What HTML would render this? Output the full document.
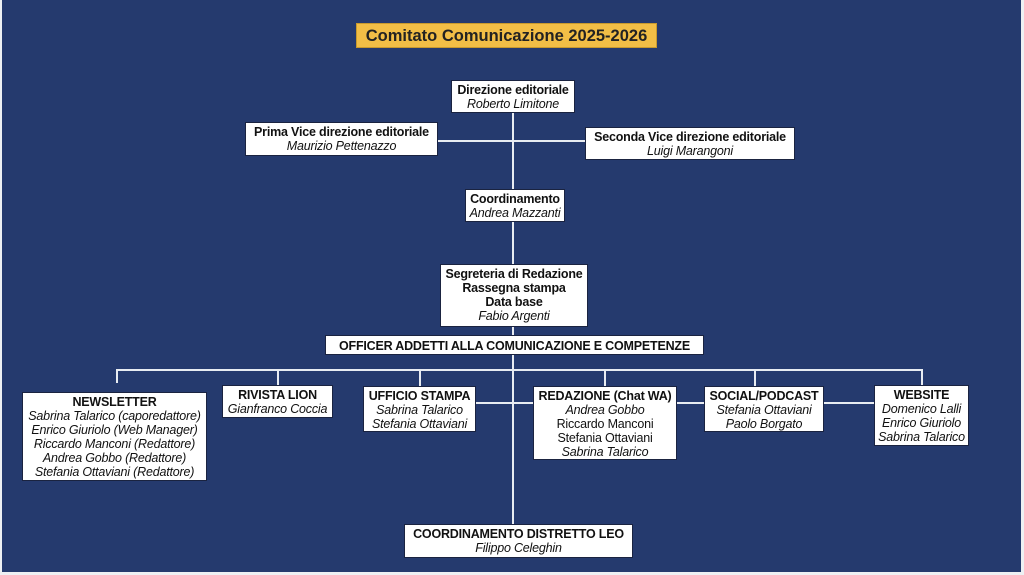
<!DOCTYPE html>
<html><head><meta charset="utf-8"><style>
body{margin:0;width:1024px;height:575px;background:#eef0f3;position:relative;overflow:hidden;font-family:"Liberation Sans",sans-serif;}
#bg{position:absolute;left:2px;top:0;width:1019px;height:572px;background:#253a6e;}
.l{position:absolute;background:#e8ecf2;}
.b{position:absolute;background:#fff;border:1px solid #1a2340;box-sizing:border-box;text-align:center;font-size:12.5px;line-height:14px;color:#111;padding-top:2px;white-space:nowrap;letter-spacing:-0.2px;}
.b b{font-size:12.5px;}
.b i{display:block;}
</style></head><body>
<div id="bg"></div>
<div style="position:absolute;left:356px;top:23px;width:301px;height:25px;background:#f2be46;border:1px solid #c99a2e;box-sizing:border-box;text-align:center;font-size:16.5px;line-height:25px;font-weight:bold;color:#222;">Comitato Comunicazione 2025-2026</div>
<div class="l" style="left:512px;top:112px;width:2px;height:413px;"></div>
<div class="l" style="left:438px;top:140px;width:148px;height:2px;"></div>
<div class="l" style="left:116px;top:369px;width:807px;height:2px;"></div>
<div class="l" style="left:116px;top:369px;width:2px;height:14px;"></div>
<div class="l" style="left:277px;top:369px;width:2px;height:17px;"></div>
<div class="l" style="left:419px;top:369px;width:2px;height:17px;"></div>
<div class="l" style="left:604px;top:369px;width:2px;height:17px;"></div>
<div class="l" style="left:754px;top:369px;width:2px;height:17px;"></div>
<div class="l" style="left:921px;top:369px;width:2px;height:17px;"></div>
<div class="l" style="left:476px;top:402px;width:399px;height:2px;"></div>
<div class="b" style="left:451px;top:80px;width:124px;height:33px;"><b>Direzione editoriale</b><i>Roberto Limitone</i></div>
<div class="b" style="left:245px;top:122px;width:193px;height:34px;"><b>Prima Vice direzione editoriale</b><i>Maurizio Pettenazzo</i></div>
<div class="b" style="left:585px;top:127px;width:210px;height:33px;"><b>Seconda Vice direzione editoriale</b><i>Luigi Marangoni</i></div>
<div class="b" style="left:465px;top:189px;width:100px;height:33px;"><b>Coordinamento</b><i>Andrea Mazzanti</i></div>
<div class="b" style="left:440px;top:264px;width:148px;height:63px;"><b>Segreteria di Redazione<br>Rassegna stampa<br>Data base</b><i>Fabio Argenti</i></div>
<div class="b" style="left:325px;top:335px;width:379px;height:20px;padding-top:3px;"><b>OFFICER ADDETTI ALLA COMUNICAZIONE E COMPETENZE</b></div>
<div class="b" style="left:22px;top:392px;width:185px;height:89px;"><b>NEWSLETTER</b><i>Sabrina Talarico (caporedattore)</i><i>Enrico Giuriolo (Web Manager)</i><i>Riccardo Manconi (Redattore)</i><i>Andrea Gobbo (Redattore)</i><i>Stefania Ottaviani (Redattore)</i></div>
<div class="b" style="left:222px;top:385px;width:111px;height:33px;"><b>RIVISTA LION</b><i>Gianfranco Coccia</i></div>
<div class="b" style="left:363px;top:386px;width:113px;height:46px;"><b>UFFICIO STAMPA</b><i>Sabrina Talarico</i><i>Stefania Ottaviani</i></div>
<div class="b" style="left:533px;top:386px;width:144px;height:74px;"><b>REDAZIONE (Chat WA)</b><i>Andrea Gobbo</i>Riccardo Manconi<br>Stefania Ottaviani<i>Sabrina Talarico</i></div>
<div class="b" style="left:704px;top:386px;width:120px;height:46px;"><b>SOCIAL/PODCAST</b><i>Stefania Ottaviani</i><i>Paolo Borgato</i></div>
<div class="b" style="left:874px;top:385px;width:95px;height:61px;"><b>WEBSITE</b><i>Domenico Lalli</i><i>Enrico Giuriolo</i><i>Sabrina Talarico</i></div>
<div class="b" style="left:404px;top:524px;width:229px;height:34px;"><b>COORDINAMENTO DISTRETTO LEO</b><i>Filippo Celeghin</i></div>
</body></html>
